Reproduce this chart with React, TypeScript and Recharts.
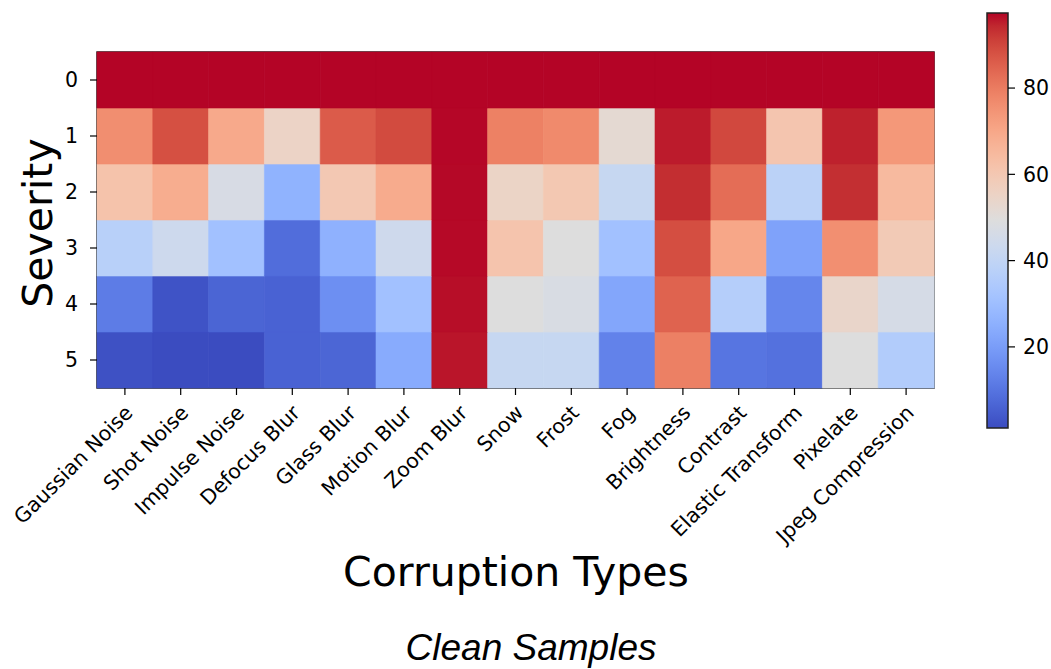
import React from 'react';
import { BarChart, Bar, XAxis, YAxis, Cell, ReferenceArea, ComposedChart } from 'recharts';

const categories = [
  'Gaussian Noise', 'Shot Noise', 'Impulse Noise', 'Defocus Blur', 'Glass Blur',
  'Motion Blur', 'Zoom Blur', 'Snow', 'Frost', 'Fog', 'Brightness', 'Contrast',
  'Elastic Transform', 'Pixelate', 'Jpeg Compression',
];
const severityLabels = ['0', '1', '2', '3', '4', '5'];

const severity0 = [97.4, 97.4, 97.4, 97.4, 97.4, 97.4, 97.4, 97.4, 97.4, 97.4, 97.4, 97.4, 97.4, 97.4, 97.4];
const severity1 = [76.2, 88.3, 69.5, 55.1, 86.3, 89.2, 97.2, 79.0, 77.0, 52.0, 95.5, 89.7, 60.8, 95.0, 73.8];
const severity2 = [61.8, 68.5, 46.9, 26.2, 59.9, 69.0, 97.1, 55.0, 60.0, 41.6, 93.6, 83.0, 38.2, 93.5, 64.7];
const severity3 = [37.3, 43.5, 31.0, 8.4, 25.7, 44.0, 97.0, 61.3, 49.3, 31.0, 88.7, 70.0, 21.4, 75.8, 59.0];
const severity4 = [11.8, 2.6, 6.5, 6.0, 16.6, 31.0, 96.6, 49.3, 47.4, 22.4, 84.9, 36.3, 14.2, 54.1, 46.4];
const severity5 = [2.2, 1.2, 1.2, 6.0, 6.8, 23.8, 96.0, 41.6, 41.6, 13.2, 79.1, 10.3, 9.4, 49.3, 35.4];
const severityRows = [severity0, severity1, severity2, severity3, severity4, severity5];

const colorbarTicks = [20, 40, 60, 80];
const VMIN = 1.2;
const VMAX = 97.4;

// Moreland coolwarm colormap table (33 samples)
const COOLWARM: number[][] = [
  [59, 76, 192], [68, 90, 204], [77, 104, 215], [87, 117, 225], [98, 130, 234],
  [108, 142, 241], [119, 154, 247], [130, 165, 251], [141, 176, 254], [152, 185, 255],
  [163, 194, 255], [174, 201, 253], [184, 208, 249], [194, 213, 244], [204, 217, 238],
  [213, 219, 230], [221, 221, 221], [229, 216, 209], [236, 211, 197], [241, 204, 185],
  [245, 196, 173], [247, 187, 160], [247, 177, 148], [247, 166, 135], [244, 154, 123],
  [241, 141, 111], [236, 127, 99], [229, 112, 88], [222, 96, 77], [213, 80, 66],
  [203, 62, 56], [192, 40, 47], [180, 4, 38],
];

function cmapT(t: number): string {
  const tt = Math.max(0, Math.min(1, t));
  const pos = tt * (COOLWARM.length - 1);
  const i = Math.min(COOLWARM.length - 2, Math.floor(pos));
  const f = pos - i;
  const a = COOLWARM[i];
  const b = COOLWARM[i + 1];
  const c = a.map((v, k) => Math.round(v + (b[k] - v) * f));
  return `rgb(${c[0]},${c[1]},${c[2]})`;
}
const colorOf = (v: number) => cmapT((v - VMIN) / (VMAX - VMIN));

const data = categories.map((name, i) => {
  const row: any = { name };
  severityRows.forEach((r, s) => {
    row['s' + s] = 1;
    row['v' + s] = r[i];
  });
  return row;
});

const stackOrder = [5, 4, 3, 2, 1, 0];
const yTicks = [0.5, 1.5, 2.5, 3.5, 4.5, 5.5];
const FONT = '"DejaVu Sans", sans-serif';
const gradStops = COOLWARM.map((c, i) => ({ offset: 1 - i / (COOLWARM.length - 1), color: `rgb(${c[0]},${c[1]},${c[2]})` })).reverse();

const XTick = (props: any) => {
  const { x, y, payload } = props;
  return (
    <g transform={`translate(${x + 9},${y + 17})`}>
      <text x={0} y={0} textAnchor="end" transform="rotate(-45)" fontSize={20.5} fontFamily={FONT} fill="#000">
        {payload.value}
      </text>
    </g>
  );
};

export default function App() {
  return (
    <div style={{ position: 'absolute', left: 0, top: 0, width: 1051, height: 669, background: '#fff', overflow: 'hidden' }}>
      <svg width={1051} height={669} style={{ position: 'absolute', left: 0, top: 0 }}>
        <defs>
          <linearGradient id="cbGrad" x1="0" y1="0" x2="0" y2="1">
            {gradStops.map((s, i) => (
              <stop key={i} offset={s.offset} stopColor={s.color} />
            ))}
          </linearGradient>
        </defs>
      </svg>
      <div style={{ position: 'absolute', left: 0, top: 0 }}>
        <BarChart
          width={1051}
          height={669}
          data={data}
          margin={{ top: 52, right: 117, bottom: 0, left: 0 }}
          barCategoryGap={0}
          barGap={0}
        >
          <XAxis
            dataKey="name"
            interval={0}
            height={281}
            tickSize={7}
            axisLine={false}
            tickLine={{ stroke: '#000', strokeWidth: 1.2 }}
            tick={<XTick />}
          />
          <YAxis
            type="number"
            domain={[0, 6]}
            ticks={yTicks}
            width={97}
            tickSize={7}
            tickMargin={12}
            axisLine={false}
            tickLine={{ stroke: '#000', strokeWidth: 1.2 }}
            tickFormatter={(v: number) => severityLabels[Math.round(5.5 - v)]}
            tick={{ fontSize: 20.5, fill: '#000', fontFamily: FONT }}
          />
          {stackOrder.map((s) => (
            <Bar key={s} dataKey={'s' + s} stackId="a" isAnimationActive={false}>
              {data.map((d, i) => (
                <Cell key={i} fill={colorOf(d['v' + s])} stroke={colorOf(d['v' + s])} strokeWidth={0.6} />
              ))}
            </Bar>
          ))}
          <ReferenceArea y1={0} y2={6} fill="none" fillOpacity={0} stroke="#222" strokeWidth={1.5} ifOverflow="visible" />
        </BarChart>
      </div>
      <div style={{ position: 'absolute', left: 0, top: 0 }}>
        <ComposedChart
          width={1051}
          height={669}
          data={[{ x: 0 }, { x: 1 }]}
          margin={{ top: 13, right: 0, bottom: 241, left: 987 }}
        >
          <XAxis type="number" dataKey="x" domain={[0, 1]} hide />
          <YAxis
            type="number"
            orientation="right"
            domain={[VMIN, VMAX]}
            ticks={colorbarTicks}
            width={43}
            tickSize={7}
            tickMargin={8}
            axisLine={false}
            tickLine={{ stroke: '#000', strokeWidth: 1.2 }}
            tick={{ fontSize: 20.5, fill: '#000', fontFamily: FONT, textAnchor: 'start' }}
            allowDataOverflow
          />
          <ReferenceArea x1={0} x2={1} y1={VMIN} y2={VMAX} fill="url(#cbGrad)" fillOpacity={1} stroke="#222" strokeWidth={1.5} ifOverflow="visible" />
        </ComposedChart>
      </div>
      <svg width={1051} height={669} style={{ position: 'absolute', left: 0, top: 0, pointerEvents: 'none' }}>
        <text x={52} y={223} transform="rotate(-90, 52, 223)" textAnchor="middle" fontSize={41} fontFamily={FONT} fill="#000">
          Severity
        </text>
        <text x={516} y={586} textAnchor="middle" fontSize={41} fontFamily={FONT} fill="#000">
          Corruption Types
        </text>
        <text x={531} y={660} textAnchor="middle" fontSize={37} fontStyle="italic" fontFamily='"Liberation Sans", Arial, sans-serif' fill="#000">
          Clean Samples
        </text>
      </svg>
    </div>
  );
}
